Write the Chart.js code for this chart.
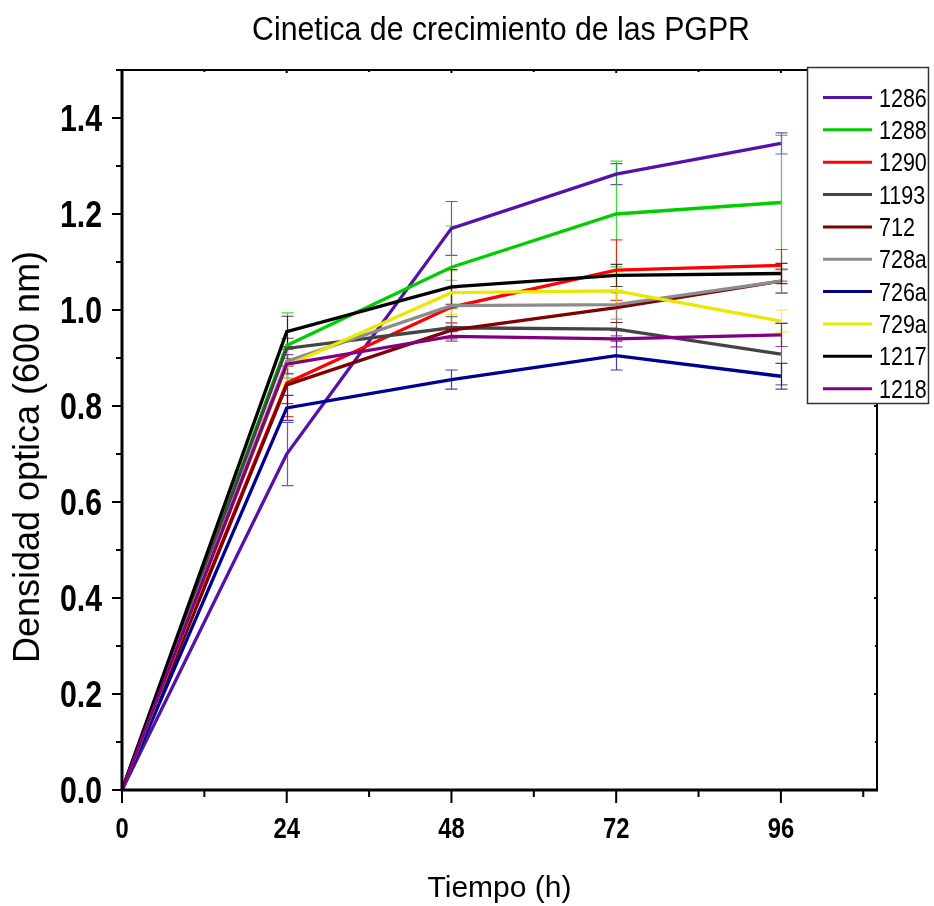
<!DOCTYPE html>
<html>
<head>
<meta charset="utf-8">
<script src="https://cdn.jsdelivr.net/npm/chart.js@4.4.1/dist/chart.umd.min.js"></script>
<style>
html,body{margin:0;padding:0;background:#fff;}
#wrap{width:934px;height:906px;position:relative;}
</style>
</head>
<body>
<div id="wrap"><canvas id="c" width="934" height="906"></canvas></div>
<script>
// ---- data ----
const times = [0, 24, 48, 72, 96];
const seriesNames = ['1286','1288','1290','1193','712','728a','726a','729a','1217','1218'];
const s1286 = [0, 0.700, 1.170, 1.283, 1.347];
const s1288 = [0, 0.926, 1.089, 1.200, 1.224];
const s1290 = [0, 0.848, 1.006, 1.083, 1.093];
const s1193 = [0, 0.920, 0.963, 0.960, 0.908];
const s712  = [0, 0.844, 0.958, 1.005, 1.060];
const s728a = [0, 0.893, 1.009, 1.011, 1.060];
const s726a = [0, 0.796, 0.855, 0.905, 0.862];
const s729a = [0, 0.884, 1.036, 1.040, 0.977];
const s1217 = [0, 0.955, 1.048, 1.072, 1.076];
const s1218 = [0, 0.887, 0.945, 0.940, 0.948];
// error (± standard deviation)
const e1286 = [0, 0.066, 0.056, 0.022, 0.022];
const e1288 = [0, 0.068, 0.086, 0.110, 0.140];
const e1290 = [0, 0.070, 0.040, 0.063, 0.033];
const e1193 = [0, 0.021, 0.023, 0.014, 0.064];
const e712  = [0, 0.039, 0.015, 0.031, 0.025];
const e728a = [0, 0.025, 0.053, 0.030, 0.024];
const e726a = [0, 0.026, 0.020, 0.030, 0.027];
const e729a = [0, 0.040, 0.045, 0.039, 0.023];
const e1217 = [0, 0.032, 0.036, 0.023, 0.021];
const e1218 = [0, 0.020, 0.010, 0.017, 0.024];
const xMajorTicks = [0, 24, 48, 72, 96];
const xMinorTicks = [12, 36, 60, 84, 108];
const yMajorTicks = [0, 0.2, 0.4, 0.6, 0.8, 1.0, 1.2, 1.4];
const yMinorTicks = [0.1, 0.3, 0.5, 0.7, 0.9, 1.1, 1.3, 1.5];
const xTickLabels = ['0', '24', '48', '72', '96'];
const yTickLabels = ['0.0', '0.2', '0.4', '0.6', '0.8', '1.0', '1.2', '1.4'];

const values = [s1286,s1288,s1290,s1193,s712,s728a,s726a,s729a,s1217,s1218];
const errors = [e1286,e1288,e1290,e1193,e712,e728a,e726a,e729a,e1217,e1218];
const colors = ['#5412a8','#00cc00','#ff0000','#444444','#800000','#8c8c8c','#000090','#e8e800','#000000','#800080'];

const FONT = '"Liberation Sans",Arial,Helvetica,sans-serif';

function hexA(hex, a){
  const n = parseInt(hex.slice(1),16);
  return `rgba(${(n>>16)&255},${(n>>8)&255},${n&255},${a})`;
}

// draw text with horizontal condensation (narrow face emulation)
function txt(ctx, s, x, y, font, align, sx, baseline){
  ctx.save();
  ctx.translate(x, y);
  ctx.scale(sx, 1);
  ctx.font = font;
  ctx.textAlign = align;
  ctx.textBaseline = baseline || 'alphabetic';
  ctx.fillText(s, 0, 0);
  ctx.restore();
}

const datasets = seriesNames.map((name,i)=>({
  label: name,
  data: times.map((t,j)=>({x:t, y:values[i][j]})),
  borderColor: colors[i],
  backgroundColor: colors[i],
  borderWidth: 3.3,
  pointRadius: 0,
  tension: 0,
  fill: false,
  order: -i
}));

const decorPlugin = {
  id: 'decor',
  beforeDatasetsDraw(chart){
    const ctx = chart.ctx, xs = chart.scales.x, ys = chart.scales.y;
    ctx.save();
    ctx.lineWidth = 1.2;
    for (let i=0;i<values.length;i++){
      ctx.strokeStyle = hexA(colors[i], 0.75);
      for (let j=0;j<times.length;j++){
        const e = errors[i][j];
        if (!e) continue;
        const px = Math.round(xs.getPixelForValue(times[j])) + 0.5;
        const yt = ys.getPixelForValue(values[i][j]+e);
        const yb = ys.getPixelForValue(values[i][j]-e);
        ctx.beginPath();
        ctx.moveTo(px, yt); ctx.lineTo(px, yb);
        ctx.moveTo(px-6, yt); ctx.lineTo(px+6, yt);
        ctx.moveTo(px-6, yb); ctx.lineTo(px+6, yb);
        ctx.stroke();
      }
    }
    ctx.restore();
  },
  afterDraw(chart){
    const ctx = chart.ctx, xs = chart.scales.x, ys = chart.scales.y;
    const a = chart.chartArea;
    ctx.save();
    ctx.strokeStyle = '#000';
    // frame
    ctx.lineWidth = 2;
    ctx.beginPath();
    ctx.moveTo(a.left, a.top); ctx.lineTo(a.right, a.top); ctx.lineTo(a.right, a.bottom);
    ctx.stroke();
    ctx.lineWidth = 3;
    ctx.beginPath();
    ctx.moveTo(a.left, a.top-1); ctx.lineTo(a.left, a.bottom); ctx.lineTo(a.right+1, a.bottom);
    ctx.stroke();
    // ticks
    ctx.lineWidth = 2;
    ctx.beginPath();
    xMajorTicks.forEach(v=>{const p=xs.getPixelForValue(v); ctx.moveTo(p,a.bottom); ctx.lineTo(p,a.bottom+13); ctx.moveTo(p,a.top); ctx.lineTo(p,a.top+3);});
    xMinorTicks.forEach(v=>{const p=xs.getPixelForValue(v); ctx.moveTo(p,a.bottom); ctx.lineTo(p,a.bottom+7); ctx.moveTo(p,a.top); ctx.lineTo(p,a.top+2);});
    yMajorTicks.forEach(v=>{const p=ys.getPixelForValue(v); ctx.moveTo(a.left,p); ctx.lineTo(a.left-10,p); ctx.moveTo(a.right,p); ctx.lineTo(a.right-3,p);});
    yMinorTicks.forEach(v=>{const p=ys.getPixelForValue(v); ctx.moveTo(a.left,p); ctx.lineTo(a.left-6,p); ctx.moveTo(a.right,p); ctx.lineTo(a.right-2,p);});
    ctx.stroke();

    ctx.fillStyle = '#000';
    // tick labels
    xMajorTicks.forEach((v,k)=>{
      txt(ctx, xTickLabels[k], xs.getPixelForValue(v), 838, 'bold 29px ' + FONT, 'center', 0.82);
    });
    yMajorTicks.forEach((v,k)=>{
      txt(ctx, yTickLabels[k], 102, ys.getPixelForValue(v) + 13, 'bold 36px ' + FONT, 'right', 0.84);
    });

    // titles
    txt(ctx, 'Cinetica de crecimiento de las PGPR', 501, 40, '34px ' + FONT, 'center', 0.89);
    txt(ctx, 'Tiempo (h)', (a.left+a.right)/2, 897, '30px ' + FONT, 'center', 1);
    ctx.save();
    ctx.translate(39, 457);
    ctx.rotate(-Math.PI/2);
    ctx.font = '36px ' + FONT;
    ctx.textAlign = 'center';
    ctx.fillText('Densidad optica (600 nm)', 0, 0);
    ctx.restore();

    // legend
    const lx = 807, ly = 67, lw = 121, lh = 336;
    ctx.fillStyle = '#fff';
    ctx.fillRect(lx, ly, lw, lh);
    ctx.lineWidth = 1.5;
    ctx.strokeStyle = '#333';
    ctx.strokeRect(lx+0.5, ly+0.5, lw, lh);
    chart.data.datasets.forEach((ds,i)=>{
      const y = 97.5 + i*32.35;
      ctx.strokeStyle = ds.borderColor;
      ctx.lineWidth = 3;
      ctx.beginPath(); ctx.moveTo(823, y); ctx.lineTo(872, y); ctx.stroke();
      ctx.fillStyle = '#000';
      txt(ctx, ds.label, 879, y + 9, '25px ' + FONT, 'left', 0.86);
    });
    ctx.restore();
  }
};

new Chart(document.getElementById('c'), {
  type: 'line',
  data: { datasets },
  options: {
    responsive: false,
    animation: false,
    layout: { padding: { top: 70, right: 57, left: 0, bottom: 0 } },
    plugins: { legend: { display: false }, title: { display: false }, tooltip: { enabled: false } },
    scales: {
      x: {
        type: 'linear', min: 0, max: 110,
        grid: { display: false, drawTicks: false },
        border: { display: false },
        ticks: { display: false, stepSize: 12 },
        afterFit(s){ s.height = 116; }
      },
      y: {
        type: 'linear', min: 0, max: 1.5,
        grid: { display: false, drawTicks: false },
        border: { display: false },
        ticks: { display: false, stepSize: 0.1 },
        afterFit(s){ s.width = 122; }
      }
    }
  },
  plugins: [decorPlugin]
});
</script>
</body>
</html>
